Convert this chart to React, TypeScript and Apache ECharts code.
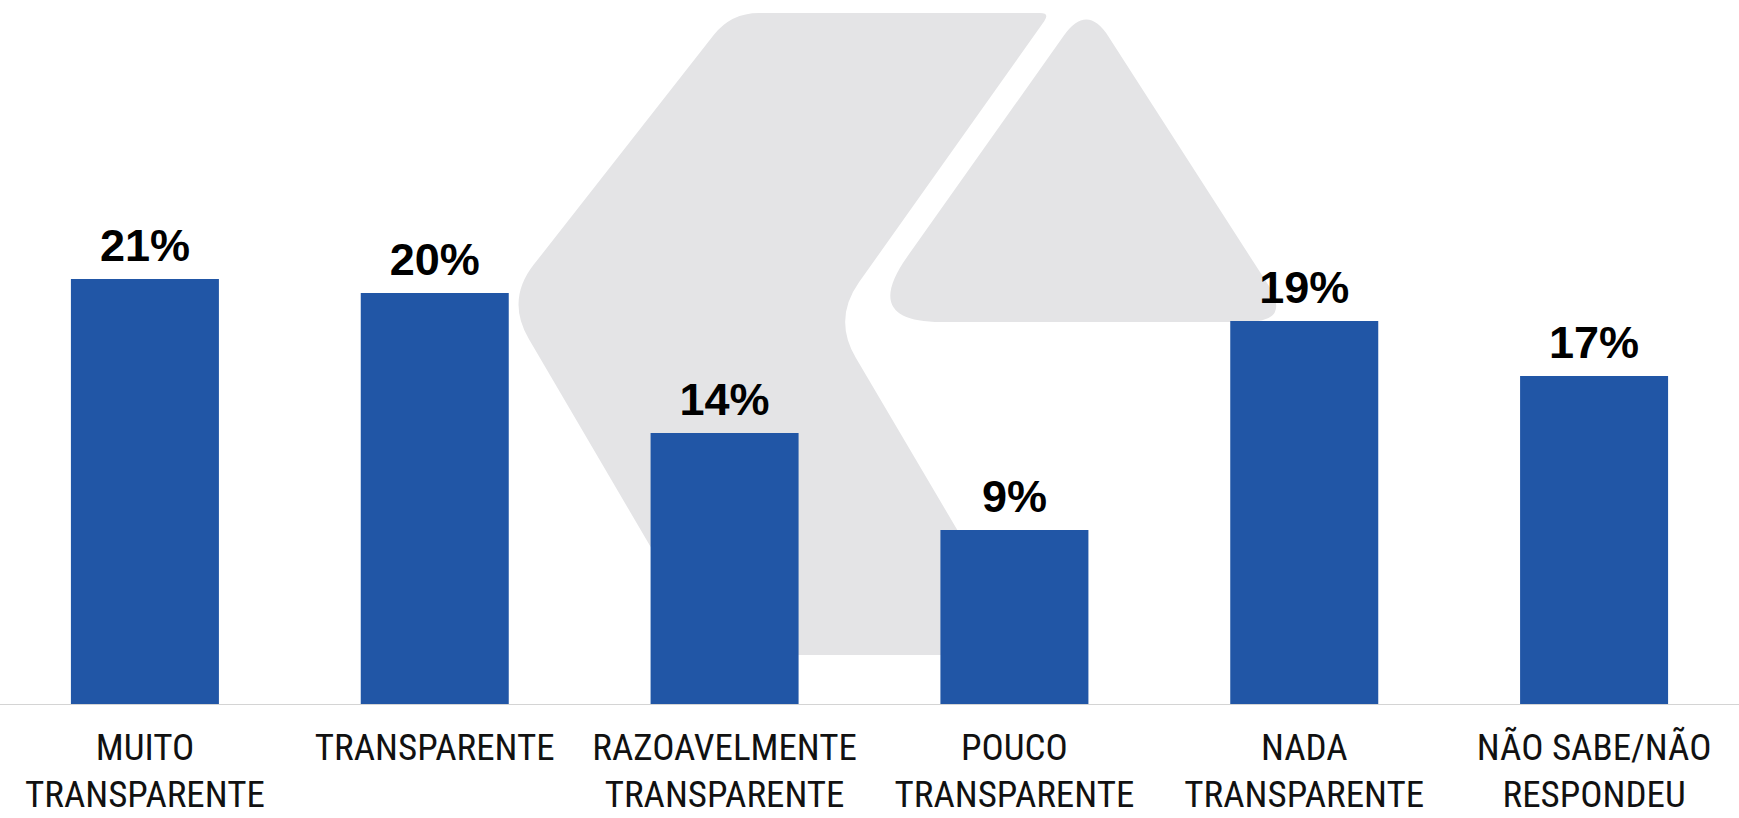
import React, { useEffect, useRef } from "react";
import * as echarts from "echarts";

const categories = [
  "MUITO\nTRANSPARENTE",
  "TRANSPARENTE",
  "RAZOAVELMENTE\nTRANSPARENTE",
  "POUCO\nTRANSPARENTE",
  "NADA\nTRANSPARENTE",
  "NÃO SABE/NÃO\nRESPONDEU",
];
// bar heights
const values = [21.25, 20.55, 13.55, 8.7, 19.15, 16.4];
// labels printed above the bars
const valueLabels = ["21%", "20%", "14%", "9%", "19%", "17%"];

type Pt = [number, number];

function roundedPath(pts: Pt[], radii: number[]): string {
  const n = pts.length;
  let d = "";
  for (let i = 0; i < n; i++) {
    const p = pts[i];
    const prev = pts[(i - 1 + n) % n];
    const next = pts[(i + 1) % n];
    const r = radii[i];
    const u1x = prev[0] - p[0], u1y = prev[1] - p[1];
    const l1 = Math.hypot(u1x, u1y);
    const u2x = next[0] - p[0], u2y = next[1] - p[1];
    const l2 = Math.hypot(u2x, u2y);
    const ax = p[0] + (u1x / l1) * r, ay = p[1] + (u1y / l1) * r;
    const bx = p[0] + (u2x / l2) * r, by = p[1] + (u2y / l2) * r;
    d += (i === 0 ? "M" : "L") + ax.toFixed(1) + " " + ay.toFixed(1) + " ";
    d += "Q" + p[0] + " " + p[1] + " " + bx.toFixed(1) + " " + by.toFixed(1) + " ";
  }
  return d + "Z";
}

const bigShape: Pt[] = [
  [731, 13],
  [1050, 13],
  [833, 319],
  [1031, 655],
  [714, 655],
  [506, 300],
];
const bigRadii = [28, 10, 45, 5, 5, 45];
const smallShape: Pt[] = [
  [1087, 3],
  [1292, 322],
  [861, 322],
];
const smallRadii = [40, 45, 80];

let registered = false;
function registerShapes() {
  if (registered) return;
  registered = true;
  echarts.graphic.registerShape(
    "wmBig",
    echarts.graphic.extendPath(roundedPath(bigShape, bigRadii), {})
  );
  echarts.graphic.registerShape(
    "wmSmall",
    echarts.graphic.extendPath(roundedPath(smallShape, smallRadii), {})
  );
}

export default function App() {
  const ref = useRef<HTMLDivElement>(null);
  useEffect(() => {
    registerShapes();
    const chart = echarts.init(ref.current!, null, { renderer: "svg" });
    chart.setOption({
      animation: false,
      backgroundColor: "#ffffff",
      graphic: [
        { type: "wmBig", x: 0, y: 0, z: -100, silent: true, style: { fill: "#e4e4e6" } },
        { type: "wmSmall", x: 0, y: 0, z: -100, silent: true, style: { fill: "#e4e4e6" } },
      ],
      grid: { left: -11, right: -28, top: 104, bottom: 114, containLabel: false },
      xAxis: {
        type: "category",
        data: categories,
        axisTick: { show: false },
        axisLine: { show: true, lineStyle: { color: "#d4d4d4", width: 1 } },
        axisLabel: {
          interval: 0,
          margin: 20,
          color: "#111111",
          fontSize: 37,
          lineHeight: 47,
          fontFamily:
            "'Liberation Sans Narrow', 'Roboto Condensed', 'Arial Narrow', 'DejaVu Sans Condensed', Roboto, sans-serif",
        },
      },
      yAxis: {
        type: "value",
        min: 0,
        max: 30,
        show: false,
        splitLine: { show: false },
      },
      series: [
        {
          type: "bar",
          data: values,
          barWidth: 148,
          itemStyle: { color: "#2156a6" },
          label: {
            show: true,
            position: "top",
            distance: 11,
            color: "#000000",
            fontSize: 45,
            fontWeight: "bold",
            fontFamily: "'Liberation Sans', Arial, sans-serif",
            formatter: (p: any) => valueLabels[p.dataIndex],
          },
        },
      ],
    });
    return () => chart.dispose();
  }, []);
  return (
    <div
      ref={ref}
      style={{ position: "absolute", left: 0, top: 0, width: 1739, height: 818 }}
    />
  );
}
